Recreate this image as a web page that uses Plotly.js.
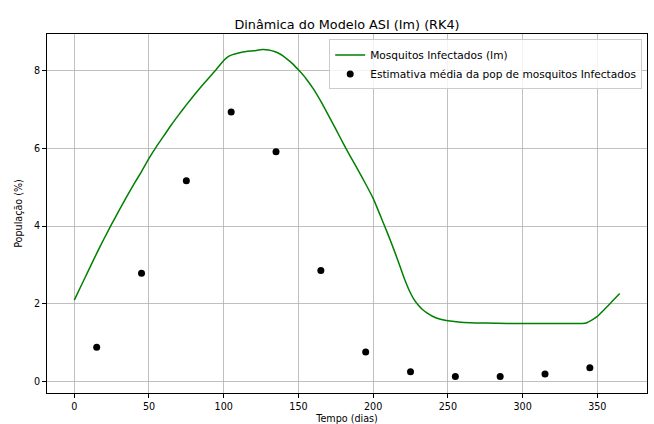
<!DOCTYPE html>
<html>
<head>
<meta charset="utf-8">
<script src="https://cdn.plot.ly/plotly-3.0.1.min.js"></script>
<style>html,body{margin:0;padding:0;background:#fff;}#chart{width:654px;height:424px;}</style>
</head>
<body>
<div id="chart"></div>
<script>
// Model curve: infected mosquitoes (Im)
const lineDays = [0,5,10,15,20,25,30,35,40,45,50,55,60,65,70,75,80,85,90,95,100,103,106,110,115,120,126,130,134,138,142,146,150,155,160,165,170,175,180,185,190,195,200,205,210,215,218,221,224,227,230,233,236,240,245,250,257,265,275,290,310,330,340,343,346,350,355,360,365];
const lineVals = [2.10,2.50,2.90,3.30,3.68,4.05,4.40,4.75,5.08,5.40,5.74,6.04,6.32,6.60,6.86,7.11,7.35,7.58,7.80,8.02,8.25,8.35,8.40,8.44,8.48,8.50,8.53,8.52,8.48,8.41,8.30,8.17,8.01,7.79,7.52,7.20,6.85,6.49,6.12,5.77,5.43,5.08,4.71,4.25,3.78,3.28,2.96,2.64,2.36,2.14,1.98,1.86,1.77,1.68,1.61,1.57,1.54,1.52,1.51,1.50,1.50,1.50,1.50,1.52,1.58,1.68,1.87,2.07,2.27];
// Mean estimates of infected mosquito population
const pointDays = [15,45,75,105,135,165,195,225,255,285,315,345];
const pointVals = [0.89,2.79,5.16,6.93,5.91,2.86,0.77,0.26,0.14,0.14,0.20,0.36];
const xTicks = [0,50,100,150,200,250,300,350];
const yTicks = [0,2,4,6,8];

const font = "DejaVu Sans, sans-serif";
const data = [
  {x: lineDays, y: lineVals, type: 'scatter', mode: 'lines', name: 'Mosquitos Infectados (Im)',
   line: {color: '#008000', width: 1.5, shape: 'spline', smoothing: 0.5}},
  {x: pointDays, y: pointVals, type: 'scatter', mode: 'markers', name: 'Estimativa média da pop de mosquitos Infectados',
   marker: {color: '#000000', size: 7}}
];
const layout = {
  width: 654, height: 424,
  margin: {l: 47, r: 7, t: 34, b: 31},
  paper_bgcolor: '#fff', plot_bgcolor: '#fff',
  font: {family: font, size: 9.6, color: '#000'},
  title: {text: 'Dinâmica do Modelo ASI (Im) (RK4)', font: {family: font, size: 12.8, color: '#000'},
          x: 0.5306, xanchor: 'center', y: 0.942, yanchor: 'middle'},
  showlegend: true,
  legend: {x: 0.992, xanchor: 'right', y: 0.985, yanchor: 'top', bgcolor: 'rgba(255,255,255,0.8)',
           bordercolor: '#cccccc', borderwidth: 1, font: {family: font, size: 10.6, color: '#000'},
           itemwidth: 30, tracegroupgap: 0},
  xaxis: {range: [-18.25, 383.25], tickvals: xTicks, ticktext: xTicks.map(String),
          showgrid: true, gridcolor: '#b0b0b0', gridwidth: 0.8, zeroline: false,
          showline: true, linecolor: '#000', linewidth: 1, mirror: true,
          ticks: 'outside', ticklen: 4, tickcolor: '#000', tickfont: {family: font, size: 9.6, color: '#000'},
          title: {text: 'Tempo (dias)', font: {family: font, size: 9.6, color: '#000'}, standoff: 8}},
  yaxis: {range: [-0.285, 8.93], tickvals: yTicks, ticktext: yTicks.map(String),
          showgrid: true, gridcolor: '#b0b0b0', gridwidth: 0.8, zeroline: false,
          showline: true, linecolor: '#000', linewidth: 1, mirror: true,
          ticks: 'outside', ticklen: 4, tickcolor: '#000', tickfont: {family: font, size: 9.6, color: '#000'},
          title: {text: 'População (%)', font: {family: font, size: 9.6, color: '#000'}, standoff: 9}}
};
Plotly.newPlot('chart', data, layout, {displayModeBar: false, staticPlot: true});
</script>
</body>
</html>
